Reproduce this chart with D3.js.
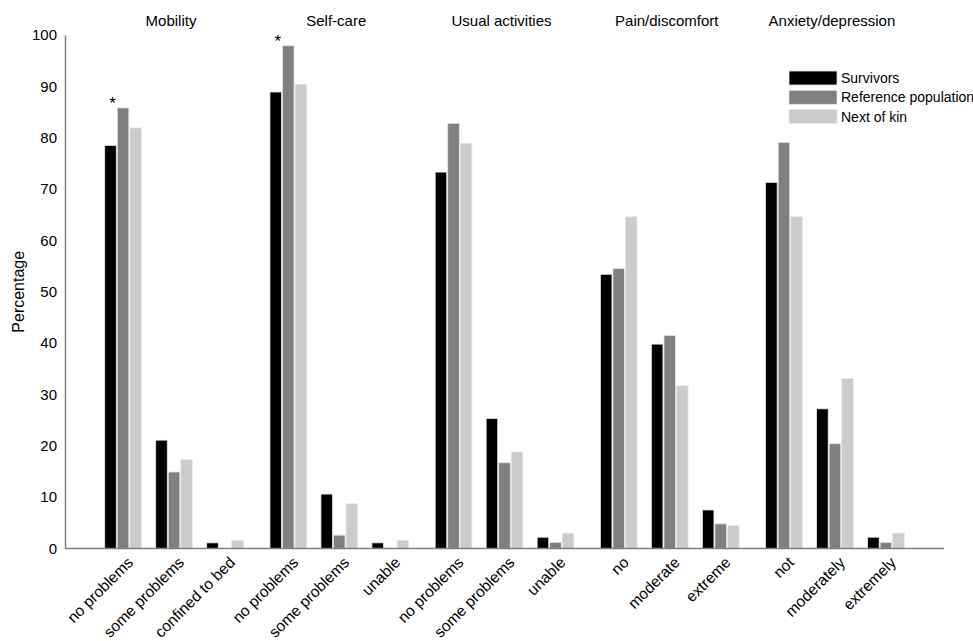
<!DOCTYPE html>
<html>
<head>
<meta charset="utf-8">
<script src="https://cdn.jsdelivr.net/npm/d3@7"></script>
<style>
  body { margin: 0; background: #fff; }
  svg { font-family: "Liberation Sans", Arial, sans-serif; }
</style>
</head>
<body>
<div id="chart"></div>
<script>
// EQ-5D dimensions and their answer levels
const dimensions = ["Mobility", "Self-care", "Usual activities", "Pain/discomfort", "Anxiety/depression"];
const levels = [
  ["no problems", "some problems", "confined to bed"],
  ["no problems", "some problems", "unable"],
  ["no problems", "some problems", "unable"],
  ["no", "moderate", "extreme"],
  ["not", "moderately", "extremely"]
];
const seriesNames = ["Survivors", "Reference population", "Next of kin"];
const seriesColors = ["#000000", "#808080", "#cccccc"];

// percentages, in order of dimension then level
const survivors = [78.5, 21.1, 1.1, 88.9, 10.6, 1.1, 73.3, 25.3, 2.2, 53.4, 39.8, 7.5, 71.3, 27.2, 2.2];
const reference = [85.8, 14.9, 0, 97.9, 2.6, 0, 82.8, 16.7, 1.2, 54.5, 41.5, 4.8, 79.1, 20.4, 1.2];
const nextOfKin = [81.9, 17.3, 1.6, 90.4, 8.7, 1.6, 78.9, 18.8, 3.0, 64.6, 31.7, 4.5, 64.6, 33.1, 3.0];
// significant difference markers (dimension, level)
const stars = [[0, 0], [1, 0]];

const yTicks = d3.range(0, 101, 10);

const width = 973, height = 641;
const margin = { top: 35, right: 29, bottom: 93, left: 65 };

const svg = d3.select("#chart").append("svg")
  .attr("width", width)
  .attr("height", height);

const x0 = d3.scaleBand()
  .domain(dimensions)
  .range([margin.left, width - margin.right])
  .paddingInner(0)
  .paddingOuter(0.16);

const x1 = d3.scaleBand()
  .domain([0, 1, 2])
  .range([0, x0.bandwidth()])
  .paddingOuter(0.12);

const x2 = d3.scaleBand()
  .domain(seriesNames)
  .range([0, x1.bandwidth()])
  .paddingInner(0.08)
  .paddingOuter(0.57);

const y = d3.scaleLinear()
  .domain([0, 100])
  .range([height - margin.bottom + 0.5, margin.top]);

// tidy rows
const series = [survivors, reference, nextOfKin];
const rows = [];
dimensions.forEach((dim, i) => {
  levels[i].forEach((lev, j) => {
    seriesNames.forEach((s, k) => {
      rows.push({ dim, i, j, lev, s, k, value: series[k][i * 3 + j] });
    });
  });
});

const catX = (i, j) => x0(dimensions[i]) + x1(j);

// bars
svg.append("g")
  .selectAll("rect")
  .data(rows.filter(d => d.value > 0))
  .join("rect")
    .attr("x", d => catX(d.i, d.j) + x2(d.s))
    .attr("width", x2.bandwidth())
    .attr("y", d => y(d.value))
    .attr("height", d => y(0) - y(d.value))
    .attr("fill", d => seriesColors[d.k])
    .attr("stroke", "#e6e6e6")
    .attr("stroke-width", 0.8);

// y axis
const yAxis = svg.append("g")
  .attr("transform", `translate(${margin.left},0)`)
  .call(d3.axisLeft(y).tickValues(yTicks).tickSize(0).tickSizeOuter(0).tickPadding(8));
yAxis.select(".domain").attr("stroke", "#808080").attr("stroke-width", 1.5);
yAxis.selectAll("text")
  .attr("fill", "#000")
  .style("font-size", "15px")
  .style("font-family", "Liberation Sans, Arial, sans-serif");

// baseline
svg.append("line")
  .attr("x1", margin.left)
  .attr("x2", width - margin.right)
  .attr("y1", y(0))
  .attr("y2", y(0))
  .attr("stroke", "#808080")
  .attr("stroke-width", 1.5);

// y label
svg.append("text")
  .attr("transform", `translate(24,${(y(0) + y(100)) / 2}) rotate(-90)`)
  .attr("text-anchor", "middle")
  .style("font-size", "16px")
  .text("Percentage");

// dimension titles
svg.append("g")
  .selectAll("text")
  .data(dimensions)
  .join("text")
    .attr("x", d => x0(d) + x0.bandwidth() / 2 - 3)
    .attr("y", 26)
    .attr("text-anchor", "middle")
    .style("font-size", "15px")
    .text(d => d);

// category labels, rotated
const cats = dimensions.flatMap((d, i) => levels[i].map((lev, j) => ({ i, j, lev })));
svg.append("g")
  .selectAll("text")
  .data(cats)
  .join("text")
    .attr("transform", d => `translate(${catX(d.i, d.j) + x1.bandwidth() / 2 + 11},${y(0) + 15}) rotate(-45)`)
    .attr("text-anchor", "end")
    .style("font-size", "15.5px")
    .text(d => d.lev);

// asterisks
svg.append("g")
  .selectAll("text")
  .data(stars)
  .join("text")
    .attr("x", ([i, j]) => catX(i, j) + x2(seriesNames[0]) + x2.bandwidth() / 2 + 2)
    .attr("y", ([i, j]) => y(d3.max(series, s => s[i * 3 + j])) + 1)
    .attr("text-anchor", "middle")
    .style("font-size", "17px")
    .text("*");

// legend
const legend = svg.append("g")
  .attr("transform", "translate(789,71)");
seriesNames.forEach((s, k) => {
  legend.append("rect")
    .attr("x", 0).attr("y", k * 19.3)
    .attr("width", 48).attr("height", 14)
    .attr("fill", seriesColors[k])
    .attr("stroke", "#e6e6e6").attr("stroke-width", 0.8);
  legend.append("text")
    .attr("x", 52).attr("y", k * 19.3 + 12)
    .style("font-size", "14px")
    .text(s);
});
</script>
</body>
</html>
